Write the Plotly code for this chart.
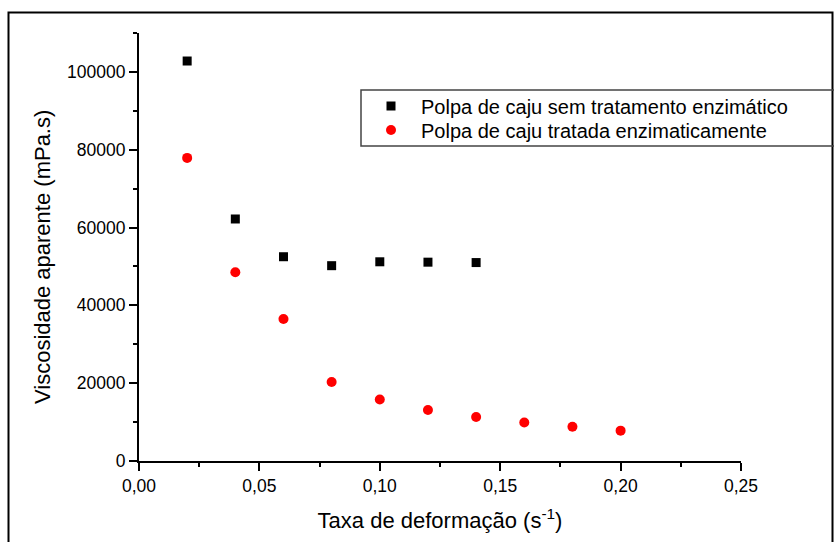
import plotly.graph_objects as go

# Shear rate (s^-1) and apparent viscosity (mPa.s)
taxa_sem = [0.02, 0.04, 0.06, 0.08, 0.10, 0.12, 0.14]
visc_sem = [102800, 62200, 52500, 50200, 51200, 51100, 51000]

taxa_trat = [0.02, 0.04, 0.06, 0.08, 0.10, 0.12, 0.14, 0.16, 0.18, 0.20]
visc_trat = [77900, 48500, 36500, 20300, 15800, 13100, 11300, 9900, 8800, 7800]

nome_sem = "Polpa de caju sem tratamento enzimático"
nome_trat = "Polpa de caju tratada enzimaticamente"

x_ticks = [0.00, 0.05, 0.10, 0.15, 0.20, 0.25]
y_ticks = [0, 20000, 40000, 60000, 80000, 100000]

FONT = "Liberation Sans, Arial, sans-serif"
W, H = 834, 542
ML, MR, MT, MB = 139, 93, 33, 81
PW, PH = W - ML - MR, H - MT - MB


def px_x(p):
    return (p - ML) / PW


def px_y(p):
    return (H - MB - p) / PH


fig = go.Figure()
fig.add_trace(go.Scatter(
    x=taxa_sem, y=visc_sem, mode="markers", name=nome_sem, legend="legend",
    marker=dict(symbol="square", size=9, color="black"),
))
fig.add_trace(go.Scatter(
    x=taxa_trat, y=visc_trat, mode="markers", name=nome_trat, legend="legend2",
    marker=dict(symbol="circle", size=10, color="#ff0000"),
))

axis_common = dict(
    showline=True, linecolor="black", linewidth=2,
    ticks="outside", ticklen=8, tickwidth=1.5, tickcolor="black",
    showgrid=False, zeroline=False,
    tickfont=dict(family=FONT, size=17.5, color="black"),
)

fig.update_xaxes(
    range=[0, 0.25], tickvals=x_ticks, tickformat=".2f",
    minor=dict(ticks="outside", ticklen=4, tickwidth=1.5, tickcolor="black",
               dtick=0.025, showgrid=False),
    title=dict(text="Taxa de deformação (s<sup>-1</sup>)", standoff=18,
               font=dict(family=FONT, size=22, color="black")),
    **axis_common,
)
fig.update_yaxes(
    range=[0, 110000], tickvals=y_ticks, tickformat="d",
    minor=dict(ticks="outside", ticklen=4, tickwidth=1.5, tickcolor="black",
               dtick=10000, showgrid=False),
    **axis_common,
)

# y-axis title, placed as a rotated annotation
fig.add_annotation(
    text="Viscosidade aparente (mPa.s)", textangle=-90,
    xref="paper", yref="paper", x=px_x(42), y=px_y(257),
    xanchor="center", yanchor="middle", showarrow=False,
    font=dict(family=FONT, size=22, color="black"),
)

# outer frame and legend box
fig.add_shape(type="rect", xref="paper", yref="paper",
              x0=px_x(8.5), x1=px_x(832.5), y0=px_y(560), y1=px_y(12.5),
              line=dict(color="black", width=2), layer="above")
fig.add_shape(type="rect", xref="paper", yref="paper",
              x0=px_x(361), x1=px_x(850), y0=px_y(146), y1=px_y(90),
              line=dict(color="#444444", width=1.5), layer="above")

legend_style = dict(
    x=px_x(361), xanchor="left", yanchor="middle",
    bgcolor="rgba(0,0,0,0)", borderwidth=0, itemwidth=50,
    font=dict(family=FONT, size=20, color="black"),
)

fig.update_layout(
    width=W, height=H,
    margin=dict(l=ML, r=MR, t=MT, b=MB),
    paper_bgcolor="white", plot_bgcolor="white",
    separators=", ",
    font=dict(family=FONT, color="black"),
    legend=dict(y=px_y(106), **legend_style),
    legend2=dict(y=px_y(130), **legend_style),
    showlegend=True,
)

fig.write_html("out.html")
